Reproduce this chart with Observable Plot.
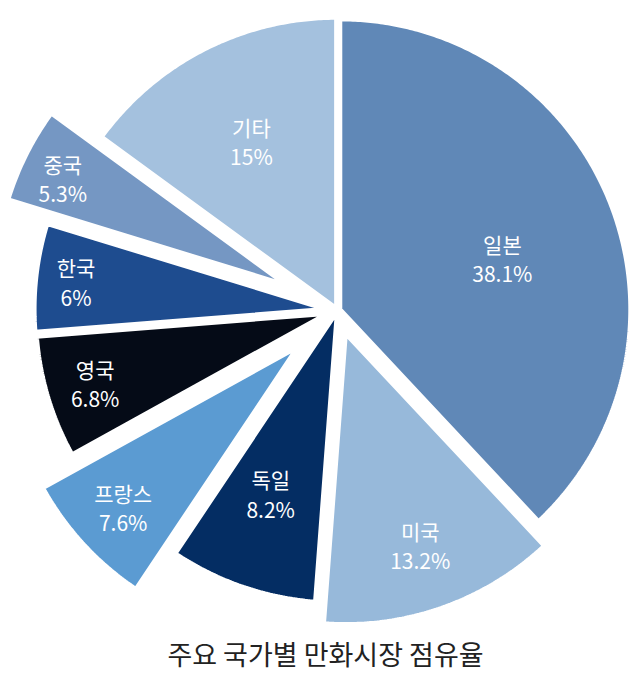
<!DOCTYPE html>
<html>
<head>
<meta charset="utf-8">
<script src="https://cdn.jsdelivr.net/npm/d3@7"></script>
<script src="https://cdn.jsdelivr.net/npm/@observablehq/plot@0.6"></script>
<style>
  html, body { margin: 0; padding: 0; background: #fff; }
  #chart svg { display: block; }
  #title { font-family: "Noto Sans CJK KR", "Noto Sans", sans-serif; font-size: 27px; color: #222;
           text-align: center; height: 40px; line-height: 40px; padding-left: 11px; width: 629px; }
</style>
</head>
<body>
<div id="chart"></div>
<div id="title">주요 국가별 만화시장 점유율</div>
<script>
// ---- data ----
const names  = ["일본", "미국", "독일", "프랑스", "영국", "한국", "중국", "기타"];
const shares = [38.1, 13.2, 8.2, 7.6, 6.8, 6, 5.3, 15];
const labels = ["38.1%", "13.2%", "8.2%", "7.6%", "6.8%", "6%", "5.3%", "15%"];

// ---- style / layout ----
const colors   = ["#6088b7", "#97b9da", "#042d63", "#5b9bd2", "#050b17", "#1e4c8f", "#7597c3", "#a4c1de"];
const explode  = [3, 25, 2, 55, 12, 13, 58, 3];          // px outward
const labelR   = [170, 224, 193, 236, 241, 250, 247, 187]; // px from center
const labelRot = [4, 0, 1, 0, 0, 0, -1, 0];                // deg shift
const R = 290, W = 640, H = 634, CX = 337, CY = 310;

const arcs = d3.pie().sort(null).value(d => d)(shares);
const poly = [];
const textPts = [];
arcs.forEach((a, i) => {
  const mid = (a.startAngle + a.endAngle) / 2;
  const ox = explode[i] / R * Math.sin(mid), oy = explode[i] / R * Math.cos(mid);
  poly.push({name: names[i], x: ox, y: oy});
  const n = Math.max(2, Math.ceil((a.endAngle - a.startAngle) / (Math.PI / 360)));
  for (let k = 0; k <= n; k++) {
    const t = a.startAngle + (a.endAngle - a.startAngle) * k / n;
    poly.push({name: names[i], x: ox + Math.sin(t), y: oy + Math.cos(t)});
  }
  const la = mid + labelRot[i] * Math.PI / 180;
  const lr = labelR[i] / R;
  textPts.push({name: names[i], text: names[i] + "\n" + labels[i],
                x: ox + lr * Math.sin(la), y: oy + lr * Math.cos(la)});
});

const chart = Plot.plot({
  width: W, height: H,
  margin: 0,
  x: {domain: [-CX / R, (W - CX) / R], axis: null},
  y: {domain: [-(H - CY) / R, CY / R], axis: null},
  color: {domain: names, range: colors},
  marks: [
    Plot.line(poly, {x: "x", y: "y", z: "name", fill: "name", stroke: "white",
                     strokeWidth: 4, strokeLinejoin: "miter", curve: "linear-closed"}),
    Plot.text(textPts, {x: "x", y: "y", text: "text", fill: "white", fontSize: 21,
                        lineHeight: 1.4, fontFamily: "Noto Sans CJK KR", textAnchor: "middle"})
  ]
});
document.getElementById("chart").appendChild(chart);
</script>
</body>
</html>
